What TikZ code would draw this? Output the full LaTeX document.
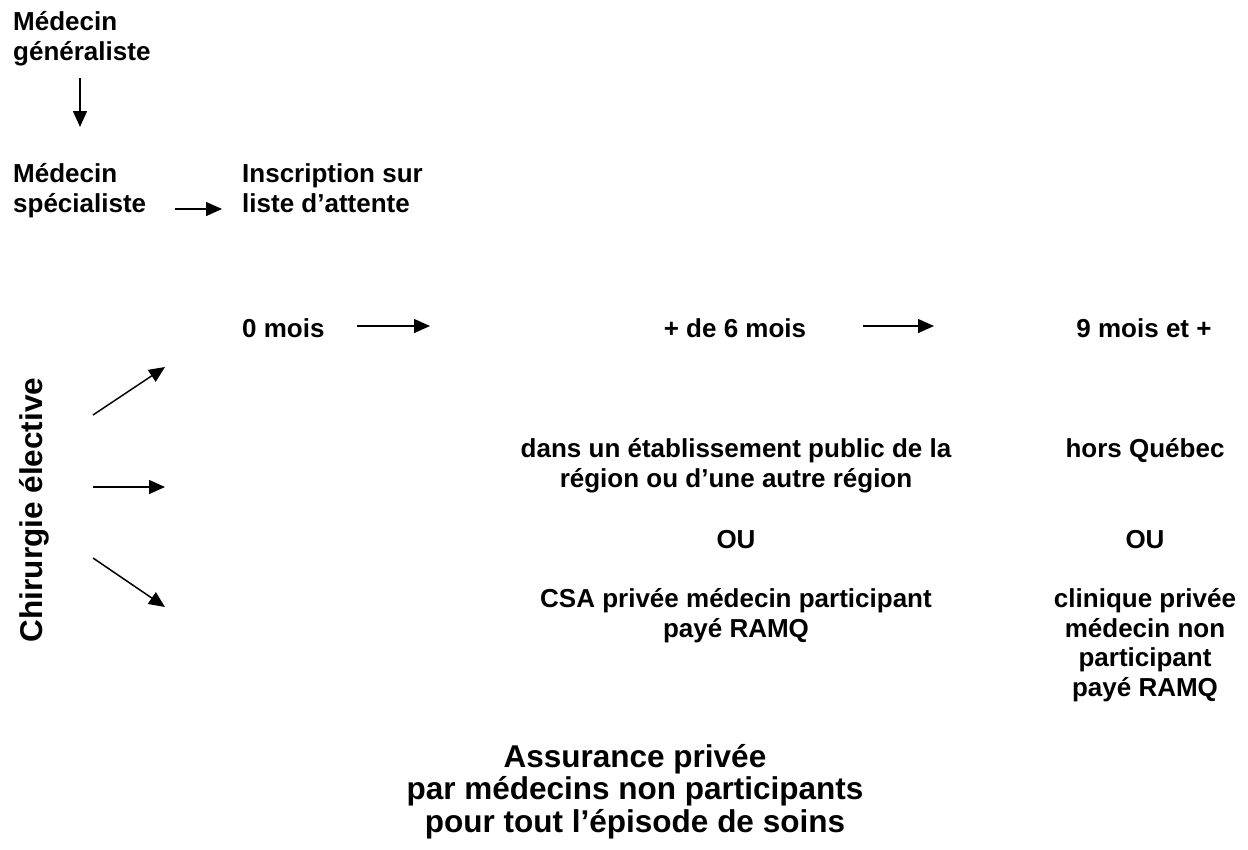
\documentclass[tikz,border=0pt]{standalone}
\usepackage{fontspec}
\setmainfont{Liberation Sans}
\usetikzlibrary{arrows.meta,positioning,calc}
\definecolor{figdark}{gray}{0}
\tikzset{
  txt/.style={
    inner sep=0pt, align=left, text=figdark,
    font=\fontsize{26}{29.5}\selectfont\bfseries
  },
  ctxt/.style={txt, align=center},
  bigtxt/.style={
    inner sep=0pt, align=center, text=figdark,
    font=\fontsize{31.5}{32.5}\selectfont\bfseries
  },
  arrow/.style={-{Triangle[length=16pt,width=14pt]}, line width=1.5pt, draw=figdark}
}
\begin{document}
\begin{tikzpicture}[x=1pt, y=-1pt]
  \useasboundingbox (0,0) rectangle (1248,849);

  % Referral path (base = last line)
  \node[txt, anchor=base west] (gen) at (13,60) {Médecin\\généraliste};
  \node[txt, anchor=base west] (spec) at (13,212) {Médecin\\spécialiste};
  \node[txt, anchor=base west] (insc) at (242,212) {Inscription sur\\liste d’attente};

  % Waiting times
  \node[txt, anchor=base west] (m0) at (242,337) {0 mois};
  \node[txt, anchor=base] (m6) at (735,337) {+ de 6 mois};
  \node[txt, anchor=base] (m9) at (1144,337) {9 mois et +};

  % Options
  \node[ctxt, anchor=base] (pub) at (736,487) {dans un établissement public de la\\région ou d’une autre région};
  \node[ctxt, anchor=base] (hq) at (1145,457) {hors Québec};
  \node[ctxt, anchor=base] (ou1) at (736,548) {OU};
  \node[ctxt, anchor=base] (ou2) at (1145,548) {OU};
  \node[ctxt, anchor=base] (csa) at (736,637) {CSA privée médecin participant\\payé RAMQ};
  \node[ctxt, anchor=base] (clin) at (1145,696) {clinique privée\\médecin non\\participant\\payé RAMQ};

  \node[bigtxt, anchor=base] (assur) at (635,832) {Assurance privée\\par médecins non participants\\pour tout l’épisode de soins};
  \node[bigtxt, rotate=90, anchor=base] (chir) at (42.5,510) {Chirurgie élective};

  % Arrow ends
  \coordinate (gen-out) at (80,78);
  \coordinate (spec-in) at (80,127);
  \coordinate (spec-out) at (175,209);
  \coordinate (insc-in) at (222,209);
  \coordinate (m0-out) at (357,326);
  \coordinate (m0-in) at (430,326);
  \coordinate (m6-out) at (863,326);
  \coordinate (m6-in) at (934,326);
  \coordinate (chir-up) at (93,415);
  \coordinate (up-end) at (165,367);
  \coordinate (chir-mid) at (93,487);
  \coordinate (mid-end) at (165,487);
  \coordinate (chir-low) at (93,558);
  \coordinate (low-end) at (165,607);

  \draw[arrow] (gen-out) -- (spec-in);
  \draw[arrow] (spec-out) -- (insc-in);
  \draw[arrow] (m0-out) -- (m0-in);
  \draw[arrow] (m6-out) -- (m6-in);
  \draw[arrow] (chir-up) -- (up-end);
  \draw[arrow] (chir-mid) -- (mid-end);
  \draw[arrow] (chir-low) -- (low-end);

\end{tikzpicture}
\end{document}
